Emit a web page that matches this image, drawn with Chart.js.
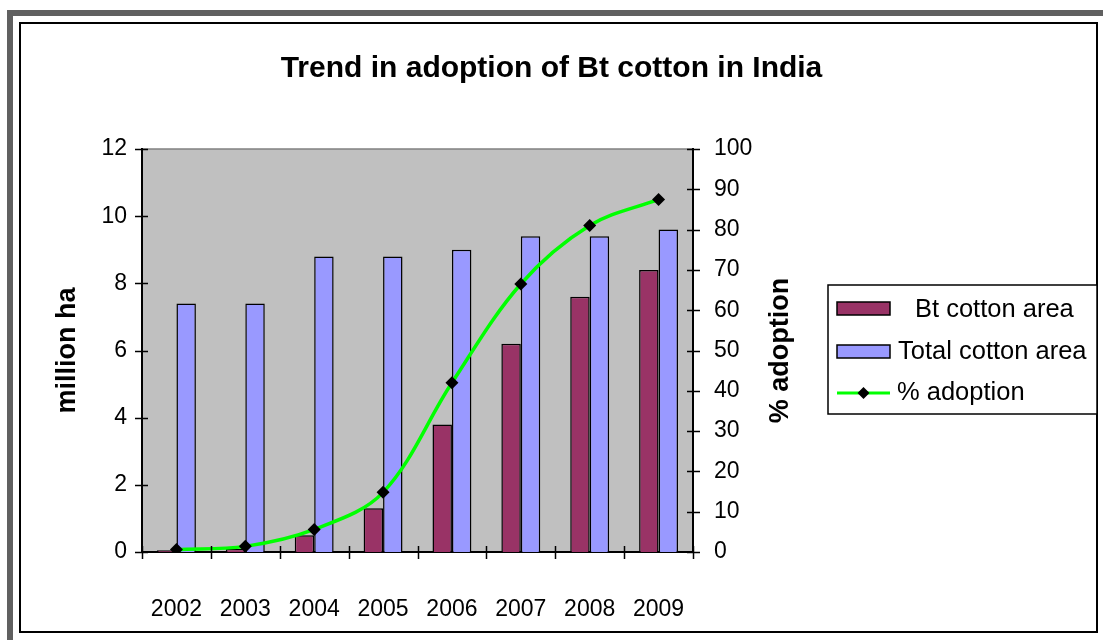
<!DOCTYPE html>
<html>
<head>
<meta charset="utf-8">
<script src="https://cdn.jsdelivr.net/npm/chart.js@4.4.1/dist/chart.umd.min.js"></script>
<style>
  html, body { margin: 0; padding: 0; background: #ffffff; }
  #wrap { position: absolute; left: 0; top: 0; width: 1103px; height: 640px; }
</style>
</head>
<body>
<div id="wrap"><canvas id="c" width="1103" height="640"></canvas></div>
<script>
// ---- data ----
const years = ['2002', '2003', '2004', '2005', '2006', '2007', '2008', '2009'];
const btArea = [0.05, 0.1, 0.5, 1.3, 3.8, 6.2, 7.6, 8.4];          // million ha
const totalArea = [7.4, 7.4, 8.8, 8.8, 9.0, 9.4, 9.4, 9.6];        // million ha
const pctAdoption = [0.6, 1.4, 5.6, 14.8, 42, 66.5, 81, 87.5];     // %
const leftTicks = [0, 2, 4, 6, 8, 10, 12];
const rightTicks = [0, 10, 20, 30, 40, 50, 60, 70, 80, 90, 100];

const seriesNames = ['Bt cotton area', 'Total cotton area', '% adoption'];
const titleText = 'Trend in adoption of Bt cotton in India';
const leftTitle = 'million ha';
const rightTitle = '% adoption';

const FONT = '"Liberation Sans", Arial, sans-serif';
const COL_BT = '#993366';
const COL_TOTAL = '#9999FF';
const COL_LINE = '#00FF00';

const decor = {
  id: 'decor',
  beforeDraw(chart) {
    const ctx = chart.ctx;
    const a = chart.chartArea;
    ctx.save();
    ctx.fillStyle = '#ffffff';
    ctx.fillRect(0, 0, chart.width, chart.height);
    ctx.strokeStyle = '#606060';
    ctx.lineWidth = 6;
    ctx.strokeRect(10, 13, 1110, 650);
    ctx.strokeStyle = '#000000';
    ctx.lineWidth = 2;
    ctx.strokeRect(20, 23, 1077, 609);
    ctx.fillStyle = '#C0C0C0';
    ctx.fillRect(a.left, a.top, a.right - a.left, a.bottom - a.top);
    ctx.strokeStyle = '#808080';
    ctx.lineWidth = 1.5;
    ctx.beginPath();
    ctx.moveTo(a.left, a.top);
    ctx.lineTo(a.right, a.top);
    ctx.stroke();
    ctx.restore();
  },
  afterDraw(chart) {
    const ctx = chart.ctx;
    const a = chart.chartArea;
    const sx = chart.scales.x, sy = chart.scales.y, sy1 = chart.scales.y1;
    ctx.save();
    ctx.strokeStyle = '#000000';
    ctx.lineWidth = 1.5;
    ctx.beginPath();
    sy.ticks.forEach(t => {
      const p = Math.round(sy.getPixelForValue(t.value)) + 0.5;
      ctx.moveTo(a.left - 7, p); ctx.lineTo(a.left + 6, p);
    });
    sy1.ticks.forEach(t => {
      const p = Math.round(sy1.getPixelForValue(t.value)) + 0.5;
      ctx.moveTo(a.right - 6, p); ctx.lineTo(a.right + 7, p);
    });
    for (let i = 0; i <= years.length; i++) {
      const p = Math.round(sx.getPixelForValue(i - 0.5)) + 0.5;
      ctx.moveTo(p, a.bottom - 6); ctx.lineTo(p, a.bottom + 7);
    }
    ctx.stroke();

    ctx.fillStyle = '#000000';
    ctx.font = 'bold 27px ' + FONT;
    ctx.textAlign = 'center';
    ctx.textBaseline = 'middle';
    const midY = (a.top + a.bottom) / 2;
    ctx.save();
    ctx.translate(68, midY);
    ctx.rotate(-Math.PI / 2);
    ctx.fillText(leftTitle, 0, 0);
    ctx.restore();
    ctx.save();
    ctx.translate(781, midY);
    ctx.rotate(-Math.PI / 2);
    ctx.fillText(rightTitle, 0, 0);
    ctx.restore();

    ctx.fillStyle = '#ffffff';
    ctx.fillRect(828, 285, 269, 129);
    ctx.strokeStyle = '#000000';
    ctx.lineWidth = 1.5;
    ctx.strokeRect(828, 285, 269, 129);
    ctx.fillStyle = COL_BT;
    ctx.fillRect(837, 302, 53, 13);
    ctx.strokeRect(837, 302, 53, 13);
    ctx.fillStyle = COL_TOTAL;
    ctx.fillRect(837, 345, 53, 13);
    ctx.strokeRect(837, 345, 53, 13);
    ctx.strokeStyle = COL_LINE;
    ctx.lineWidth = 3;
    ctx.beginPath();
    ctx.moveTo(837, 393); ctx.lineTo(890, 393);
    ctx.stroke();
    ctx.fillStyle = '#000000';
    ctx.beginPath();
    ctx.moveTo(863.5, 387); ctx.lineTo(869.5, 393); ctx.lineTo(863.5, 399); ctx.lineTo(857.5, 393);
    ctx.closePath(); ctx.fill();
    ctx.font = '25.5px ' + FONT;
    ctx.textAlign = 'left';
    ctx.textBaseline = 'middle';
    ctx.fillText(seriesNames[0], 915, 310);
    ctx.fillText(seriesNames[1], 898, 352);
    ctx.fillText(seriesNames[2], 897, 393);
    ctx.restore();
  }
};

new Chart(document.getElementById('c'), {
  data: {
    labels: years,
    datasets: [
      {
        type: 'line', label: seriesNames[2], data: pctAdoption, yAxisID: 'y1', order: 0,
        borderColor: COL_LINE, borderWidth: 3.5, tension: 0.35,
        pointStyle: 'rectRot', pointRadius: 6.5, pointBackgroundColor: '#000', pointBorderColor: '#000',
        pointBorderWidth: 0, fill: false
      },
      {
        type: 'bar', label: seriesNames[0], data: btArea, yAxisID: 'y', order: 1,
        backgroundColor: COL_BT, borderColor: '#000', borderWidth: 1.5,
        categoryPercentage: 0.565, barPercentage: 1.0
      },
      {
        type: 'bar', label: seriesNames[1], data: totalArea, yAxisID: 'y', order: 1,
        backgroundColor: COL_TOTAL, borderColor: '#000', borderWidth: 1.5,
        categoryPercentage: 0.565, barPercentage: 1.0
      }
    ]
  },
  options: {
    responsive: false,
    animation: false,
    devicePixelRatio: 1,
    layout: { padding: { left: 0, right: 0, top: 0, bottom: 0 } },
    plugins: {
      legend: { display: false },
      tooltip: { enabled: false },
      title: {
        display: true, text: titleText, color: '#000',
        font: { family: FONT, size: 30, weight: 'bold', lineHeight: 1.2 },
        padding: { top: 51, bottom: 62 }
      }
    },
    scales: {
      x: {
        type: 'category', offset: true,
        grid: { display: false, drawTicks: false, offset: true },
        border: { display: true, color: '#000', width: 2 },
        ticks: { color: '#000', font: { family: FONT, size: 23 }, padding: 44, maxRotation: 0, autoSkip: false },
        afterFit(s) { s.height = 88; }
      },
      y: {
        type: 'linear', position: 'left', min: 0, max: 12,
        afterBuildTicks(s) { s.ticks = leftTicks.map(v => ({ value: v })); },
        grid: { display: false, drawTicks: false },
        border: { display: true, color: '#000', width: 2 },
        ticks: { color: '#000', font: { family: FONT, size: 23 }, padding: 15 },
        afterFit(s) { s.width = 142; }
      },
      y1: {
        type: 'linear', position: 'right', min: 0, max: 100,
        afterBuildTicks(s) { s.ticks = rightTicks.map(v => ({ value: v })); },
        grid: { display: false, drawTicks: false },
        border: { display: true, color: '#000', width: 2 },
        ticks: { color: '#000', font: { family: FONT, size: 23 }, padding: 21 },
        afterFit(s) { s.width = 410; }
      }
    }
  },
  plugins: [decor]
});
</script>
</body>
</html>
